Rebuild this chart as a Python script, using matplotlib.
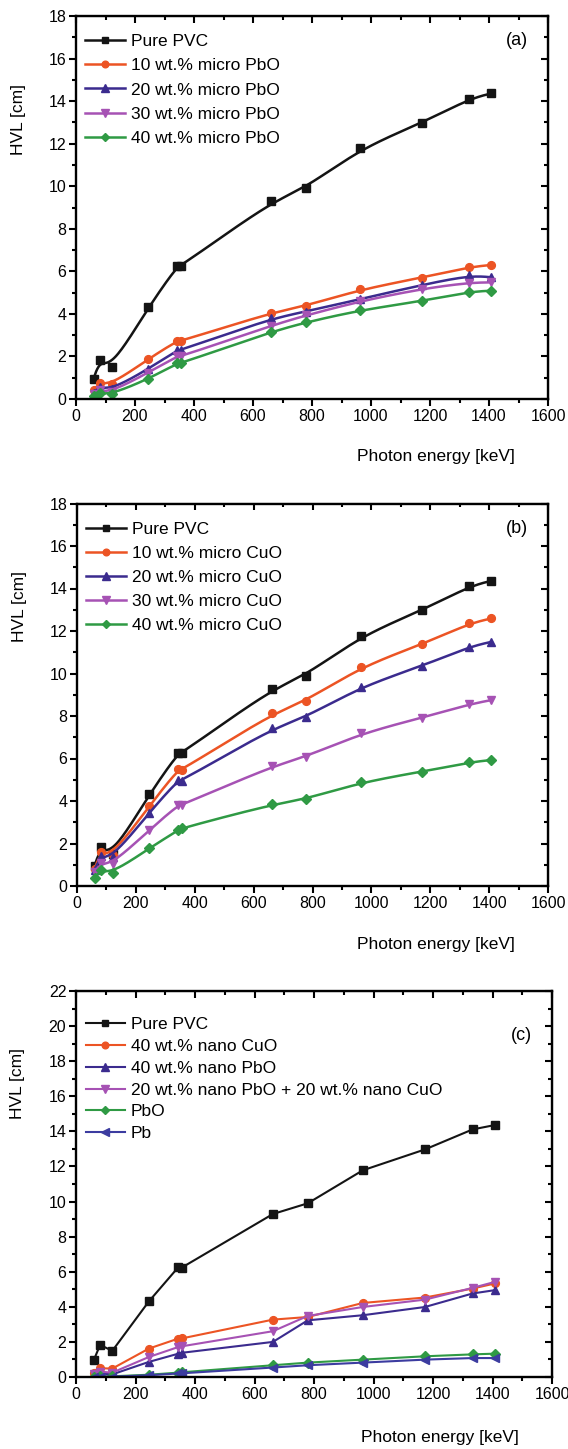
import numpy as np
import matplotlib
matplotlib.use('Agg')
import matplotlib.pyplot as plt
from matplotlib.lines import Line2D
from matplotlib.ticker import MultipleLocator

plt.rcParams['font.family'] = ['Liberation Sans', 'DejaVu Sans']

# photon energies [keV]
energy = [59.5, 81, 122, 245, 344, 356, 662, 779, 964, 1173, 1333, 1408]

# HVL [cm]
pure_pvc = [0.95, 1.83, 1.49, 4.31, 6.26, 6.24, 9.29, 9.90, 11.78, 12.97, 14.11, 14.36]

# (a) micro PbO
pbo10 = [0.42, 0.77, 0.69, 1.88, 2.74, 2.72, 4.06, 4.37, 5.15, 5.70, 6.20, 6.30]
pbo20 = [0.30, 0.58, 0.45, 1.41, 2.30, 2.30, 3.79, 4.10, 4.70, 5.36, 5.81, 5.72]
pbo30 = [0.25, 0.40, 0.35, 1.24, 2.02, 2.00, 3.45, 3.93, 4.60, 5.18, 5.47, 5.48]
pbo40 = [0.15, 0.28, 0.23, 0.94, 1.68, 1.68, 3.16, 3.60, 4.18, 4.60, 5.04, 5.09]

# (b) micro CuO
cuo10 = [0.80, 1.61, 1.46, 3.76, 5.49, 5.45, 8.12, 8.70, 10.32, 11.37, 12.36, 12.59]
cuo20 = [0.75, 1.42, 1.35, 3.45, 4.99, 4.95, 7.42, 7.94, 9.38, 10.35, 11.26, 11.49]
cuo30 = [0.65, 1.08, 1.05, 2.63, 3.81, 3.80, 5.64, 6.08, 7.18, 7.92, 8.55, 8.75]
cuo40 = [0.38, 0.75, 0.62, 1.77, 2.63, 2.72, 3.84, 4.09, 4.88, 5.38, 5.82, 5.93]

# (c) nano fillers and references
nano_cuo40 = [0.25, 0.50, 0.48, 1.62, 2.19, 2.20, 3.27, 3.42, 4.22, 4.53, 5.04, 5.33]
nano_pbo40 = [0.10, 0.20, 0.15, 0.86, 1.33, 1.38, 2.00, 3.23, 3.52, 3.99, 4.76, 4.95]
nano_mix = [0.15, 0.30, 0.25, 1.14, 1.71, 1.75, 2.61, 3.48, 3.99, 4.41, 5.08, 5.42]
ref_pbo = [0.02, 0.03, 0.04, 0.13, 0.25, 0.27, 0.67, 0.82, 0.99, 1.18, 1.29, 1.33]
ref_pb = [0.01, 0.02, 0.02, 0.10, 0.20, 0.21, 0.54, 0.67, 0.82, 0.99, 1.08, 1.08]

labels_a = ['Pure PVC', '10 wt.% micro PbO', '20 wt.% micro PbO',
            '30 wt.% micro PbO', '40 wt.% micro PbO']
labels_b = ['Pure PVC', '10 wt.% micro CuO', '20 wt.% micro CuO',
            '30 wt.% micro CuO', '40 wt.% micro CuO']
labels_c = ['Pure PVC', '40 wt.% nano CuO', '40 wt.% nano PbO',
            '20 wt.% nano PbO + 20 wt.% nano CuO', 'PbO', 'Pb']

BLACK = '#141414'
ORANGE = '#EC5424'
INDIGO = '#3B2B8E'
MAGENTA = '#A652B4'
GREEN = '#2F9A44'
PB = '#3C3CA0'

colors5 = [BLACK, ORANGE, INDIGO, MAGENTA, GREEN]
markers5 = ['s', 'o', '^', 'v', 'D']
colors6 = [BLACK, ORANGE, INDIGO, MAGENTA, GREEN, PB]
markers6 = ['s', 'o', '^', 'v', 'D', '<']
msizes = {'s': 5.8, 'o': 5.6, '^': 6.2, 'v': 6.2, 'D': 4.6, '<': 6.2}


def bspline(x, y, n=24):
    # uniform cubic B-spline (clamped), like Origin's smoothed line
    p = np.column_stack([x, y]).astype(float)
    p = np.vstack([p[:1], p[:1], p, p[-1:], p[-1:]])
    t = np.linspace(0, 1, n)
    b0 = (1 - t) ** 3 / 6
    b1 = (3 * t ** 3 - 6 * t ** 2 + 4) / 6
    b2 = (-3 * t ** 3 + 3 * t ** 2 + 3 * t + 1) / 6
    b3 = t ** 3 / 6
    out = []
    for i in range(len(p) - 3):
        seg = (np.outer(b0, p[i]) + np.outer(b1, p[i + 1])
               + np.outer(b2, p[i + 2]) + np.outer(b3, p[i + 3]))
        out.append(seg)
    out = np.vstack(out)
    return out[:, 0], out[:, 1]


def style_axes(ax, ymax):
    ax.set_xlim(0, 1600)
    ax.set_ylim(0, ymax)
    ax.xaxis.set_major_locator(MultipleLocator(200))
    ax.xaxis.set_minor_locator(MultipleLocator(100))
    ax.yaxis.set_major_locator(MultipleLocator(2))
    ax.yaxis.set_minor_locator(MultipleLocator(1))
    ax.tick_params(which='both', direction='out', width=1.5, labelsize=11.5,
                   pad=2)
    ax.tick_params(which='major', length=5)
    ax.tick_params(which='minor', length=3)
    for s in ax.spines.values():
        s.set_linewidth(1.7)
    top = ax.secondary_xaxis('top')
    top.xaxis.set_major_locator(MultipleLocator(200))
    top.xaxis.set_minor_locator(MultipleLocator(100))
    top.tick_params(which='both', direction='in', width=1.5, labeltop=False)
    top.tick_params(which='major', length=5)
    top.tick_params(which='minor', length=3)
    right = ax.secondary_yaxis('right')
    right.yaxis.set_major_locator(MultipleLocator(2))
    right.yaxis.set_minor_locator(MultipleLocator(1))
    right.tick_params(which='both', direction='in', width=1.5, labelright=False)
    right.tick_params(which='major', length=5)
    right.tick_params(which='minor', length=3)


def panel(ax, series, labels, colors, markers, ymax, tag, smooth,
          leg_y, xlab_y, ylab_y, tag_y, lspace):
    handles = []
    lw = 1.8 if smooth else 1.5
    for yv, lab, c, m in zip(series, labels, colors, markers):
        if smooth:
            sx, sy = bspline(energy, yv)
            ax.plot(sx, sy, color=c, lw=lw)
        else:
            ax.plot(energy, yv, color=c, lw=lw)
        ax.plot(energy, yv, linestyle='none', marker=m, color=c,
                markersize=msizes[m])
        handles.append(Line2D([], [], color=c, lw=lw, marker=m,
                              markersize=msizes[m] - 0.8))
    style_axes(ax, ymax)
    ax.legend(handles, labels, loc='upper left', bbox_to_anchor=(0.02, leg_y),
              frameon=False, fontsize=12.5, handlelength=2.3,
              handletextpad=0.3, labelspacing=lspace, borderpad=0,
              borderaxespad=0)
    ax.text(0.935, tag_y, tag, transform=ax.transAxes, ha='center',
            va='center', fontsize=13)
    ax.text(0.93, xlab_y, 'Photon energy [keV]', transform=ax.transAxes,
            ha='right', va='center', fontsize=12.5)
    ax.text(-0.122, ylab_y, 'HVL [cm]', transform=ax.transAxes, rotation=90,
            ha='center', va='center', fontsize=12.5)


fig = plt.figure(figsize=(5.68, 14.49), dpi=100)
W, H = 568.0, 1449.0
ax1 = fig.add_axes([76 / W, 1 - 399 / H, 472 / W, 383 / H])
ax2 = fig.add_axes([77 / W, 1 - 886 / H, 471 / W, 382.5 / H])
ax3 = fig.add_axes([76 / W, 1 - 1377 / H, 476 / W, 386 / H])

panel(ax1, [pure_pvc, pbo10, pbo20, pbo30, pbo40], labels_a, colors5,
      markers5, 18, '(a)', True, 0.953, -0.149, 0.73, 0.935, 0.52)
panel(ax2, [pure_pvc, cuo10, cuo20, cuo30, cuo40], labels_b, colors5,
      markers5, 18, '(b)', True, 0.953, -0.152, 0.73, 0.935, 0.52)
panel(ax3, [pure_pvc, nano_cuo40, nano_pbo40, nano_mix, ref_pbo, ref_pb],
      labels_c, colors6, markers6, 22, '(c)', False, 0.932, -0.158, 0.76,
      0.885, 0.38)

fig.savefig('out.png', dpi=100)
